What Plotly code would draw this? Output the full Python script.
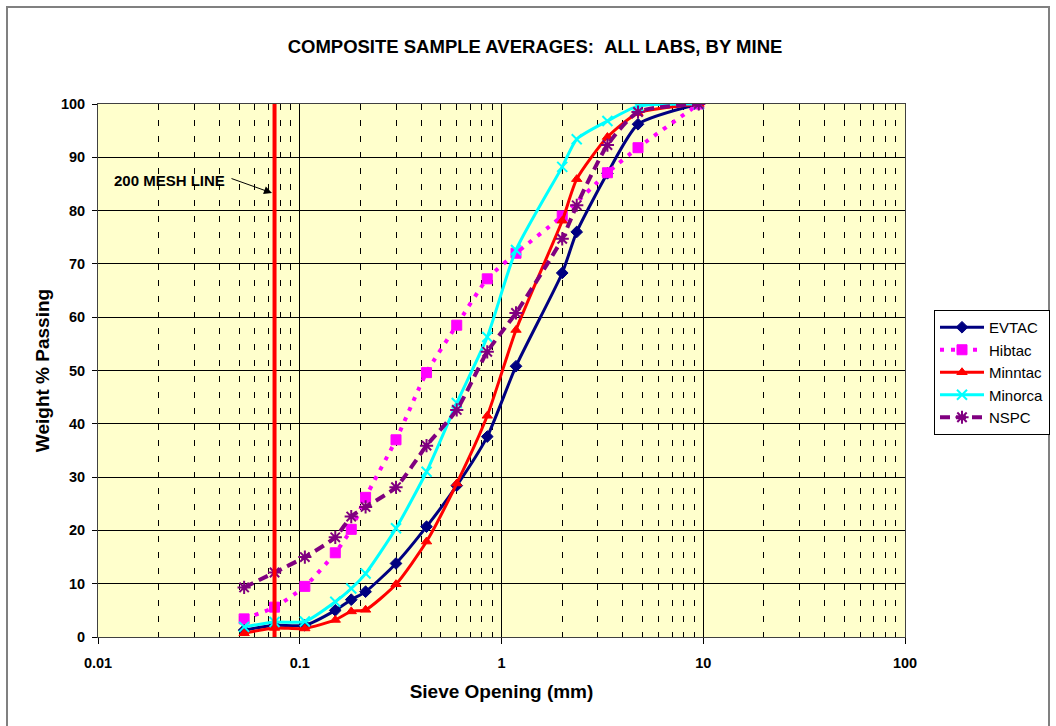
import plotly.graph_objects as go

# Sieve openings (mm)
sieve_all = [0.053, 0.075, 0.106, 0.15, 0.18, 0.212, 0.3, 0.425, 0.6, 0.85, 1.18, 2.0, 2.36, 3.35, 4.75, 9.5]
sieve_hib = [0.053, 0.075, 0.106, 0.15, 0.18, 0.212, 0.3, 0.425, 0.6, 0.85, 1.18, 2.0, 3.35, 4.75, 9.5]

evtac = [1.3, 2.2, 2.2, 5.0, 7.0, 8.5, 13.8, 20.7, 28.4, 37.6, 50.8, 68.3, 76.0, 87.0, 96.2, 100]
hibtac = [3.4, 5.6, 9.5, 15.8, 20.2, 26.2, 37.0, 49.6, 58.5, 67.2, 72.0, 79.0, 87.1, 91.8, 100]
minntac = [0.7, 1.7, 1.6, 3.2, 4.8, 5.1, 9.9, 17.9, 28.8, 41.5, 57.6, 78.1, 85.9, 93.8, 98.3, 100]
minorca = [1.9, 2.8, 2.9, 6.6, 9.1, 11.9, 20.4, 31.0, 43.9, 56.3, 72.6, 88.2, 93.4, 96.8, 99.6, 100]
nspc = [9.3, 12.1, 15.0, 18.7, 22.6, 24.4, 28.1, 35.9, 42.6, 53.5, 60.8, 74.7, 81.0, 92.3, 98.5, 100]

mesh200_x = [0.075, 0.075]
mesh200_y = [-1, 101]

x_tickvals = [0.01, 0.1, 1, 10, 100]
x_ticktext = ["0.01", "0.1", "1", "10", "100"]

FONT = "Liberation Sans, Arial, sans-serif"

fig = go.Figure()

series = [
    ("EVTAC", sieve_all, evtac, "#000080", "solid", "diamond", 9, 1, 3),
    ("Hibtac", sieve_hib, hibtac, "#FF00FF", "4px,7px", "square", 10, 1, 4),
    ("Minntac", sieve_all, minntac, "#FF0000", "solid", "triangle-up", 9, 1, 3),
    ("Minorca", sieve_all, minorca, "#00FFFF", "solid", "x-thin-open", 10, 2, 3),
    ("NSPC", sieve_all, nspc, "#800080", "10px,6px", "asterisk-open", 11, 2, 4),
]

for name, xs, ys, color, dash, sym, size, mlw, lw in series:
    fig.add_trace(go.Scatter(
        x=xs, y=ys, name=name, legendgroup=name,
        mode="lines+markers",
        line=dict(color=color, width=lw, dash=dash, shape="spline", smoothing=0.6),
        marker=dict(symbol=sym, size=size, color=color, line=dict(color=color, width=mlw)),
    ))

fig.add_trace(go.Scatter(
    x=mesh200_x, y=mesh200_y, mode="lines", showlegend=False,
    line=dict(color="#FF0000", width=4), hoverinfo="skip",
))

fig.update_layout(
    width=1056, height=726,
    margin=dict(l=98, r=151, t=104, b=89, autoexpand=False),
    paper_bgcolor="white",
    plot_bgcolor="#FFFFCC",
    font=dict(family=FONT, color="black"),
    title=dict(
        text="COMPOSITE SAMPLE AVERAGES:\u00a0\u00a0ALL LABS, BY MINE",
        x=535 / 1056, xanchor="center", xref="container",
        y=1 - 47 / 726, yanchor="middle", yref="container",
        font=dict(size=18.5, weight="bold", family=FONT),
    ),
    showlegend=True,
    legend=dict(
        xref="container", yref="container",
        x=934 / 1056, xanchor="left",
        y=1 - 310 / 726, yanchor="top",
        bgcolor="white", bordercolor="black", borderwidth=1,
        font=dict(size=15, family=FONT),
        tracegroupgap=0, itemwidth=44,
    ),
)

fig.update_xaxes(
    type="log", range=[-2, 2],
    tickmode="array", tickvals=x_tickvals, ticktext=x_ticktext,
    tickfont=dict(size=14.5, weight="bold"),
    ticks="outside", ticklen=6, tickcolor="black",
    ticklabelstandoff=7,
    showgrid=True, gridcolor="black", gridwidth=1,
    minor=dict(dtick="D1", showgrid=True, gridcolor="black", gridwidth=1,
               griddash="6px,10px", ticks=""),
    showline=True, linecolor="#404040", linewidth=1, mirror=True,
    zeroline=False,
    title=dict(text="Sieve Opening (mm)", font=dict(size=19, weight="bold"), standoff=14),
)

fig.update_yaxes(
    range=[0, 100], dtick=10,
    tickfont=dict(size=14.5, weight="bold"),
    ticks="outside", ticklen=5, tickcolor="black",
    ticklabelstandoff=4,
    showgrid=True, gridcolor="black", gridwidth=1,
    showline=True, linecolor="#404040", linewidth=1, mirror=True,
    zeroline=False,
    title=dict(text="Weight % Passing", font=dict(size=19, weight="bold"), standoff=6),
)

# Annotation text and arrow for the 200 mesh line
fig.add_annotation(
    xref="paper", yref="paper",
    x=(169 - 98) / 807, y=(637 - 180) / 533,
    text="<b>200 MESH LINE</b>", showarrow=False,
    font=dict(size=15, family=FONT, color="black"),
    xanchor="center", yanchor="middle",
)
fig.add_annotation(
    xref="paper", yref="paper",
    x=(272 - 98) / 807, y=(637 - 193) / 533,
    text="", showarrow=True, arrowhead=2, arrowsize=1.6, arrowwidth=1,
    arrowcolor="black", ax=-42, ay=-15,
)

# Outer chart border (top and left visible)
fig.add_shape(
    type="rect", xref="paper", yref="paper",
    x0=(7 - 98) / 807, x1=(1049 - 98) / 807,
    y0=(637 - 740) / 533, y1=(637 - 7) / 533,
    line=dict(color="#808080", width=2), fillcolor="rgba(0,0,0,0)", layer="below",
)

fig.write_html(
    "out.html",
    config={"displayModeBar": False},
    post_script="document.body.style.margin='0';",
)
